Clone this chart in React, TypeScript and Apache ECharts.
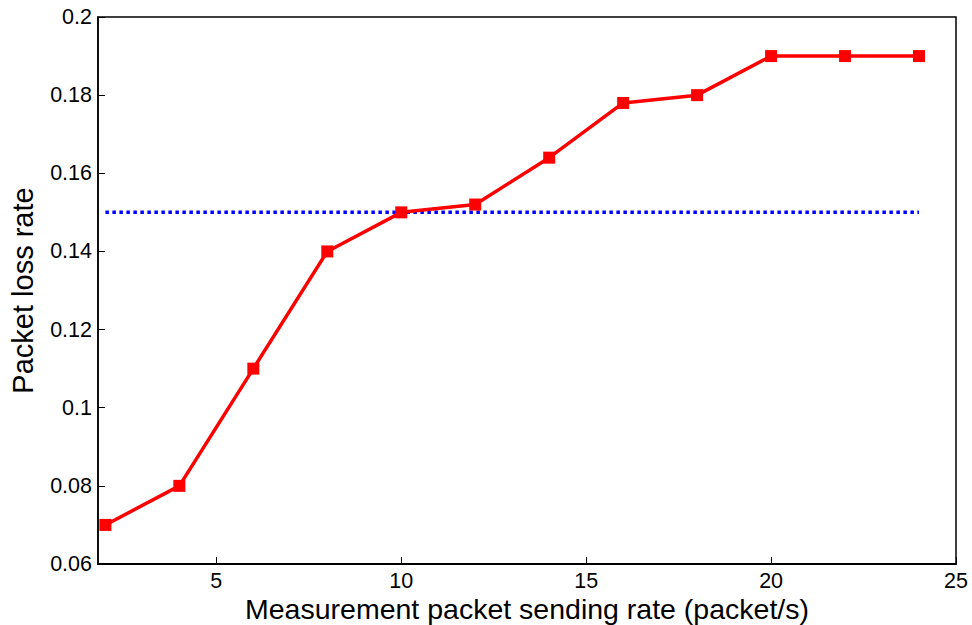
import React, { useEffect, useRef } from "react";
import * as echarts from "echarts";

const xValues = [2, 4, 6, 8, 10, 12, 14, 16, 18, 20, 22, 24];
const lossRate = [0.07, 0.08, 0.11, 0.14, 0.15, 0.152, 0.164, 0.178, 0.18, 0.19, 0.19, 0.19];
const thresholdX = [2, 24];
const thresholdY = [0.15, 0.15];
const xTicks = [5, 10, 15, 20, 25];

export default function App() {
  const ref = useRef<HTMLDivElement>(null);
  useEffect(() => {
    const chart = echarts.init(ref.current!, null, { renderer: "svg" });
    const font = "'Liberation Sans', Arial, sans-serif";
    chart.setOption({
      animation: false,
      backgroundColor: "#fff",
      grid: {
        left: 98,
        right: 16,
        top: 17,
        bottom: 61,
        outerBoundsMode: "none",
        containLabel: false,
        show: true,
        borderColor: "#000",
        borderWidth: 1.5,
      },
      xAxis: {
        type: "value",
        min: 1.8,
        max: 25,
        name: "Measurement packet sending rate (packet/s)",
        nameLocation: "middle",
        nameGap: 30,
        nameMoveOverlap: false,
        nameTextStyle: { fontFamily: font, fontSize: 28.5, color: "#000", lineHeight: 30 },
        axisLine: { show: true, onZero: false, lineStyle: { color: "#000", width: 2 } },
        axisTick: { show: true, inside: true, length: 7, customValues: xTicks, lineStyle: { color: "#000" } },
        axisLabel: { customValues: xTicks, fontFamily: font, fontSize: 21.5, color: "#000", margin: 6, lineHeight: 22 },
        splitLine: { show: false },
      },
      yAxis: {
        type: "value",
        min: 0.06,
        max: 0.2,
        interval: 0.02,
        name: "Packet loss rate",
        nameLocation: "middle",
        nameGap: 61,
        nameMoveOverlap: false,
        nameTextStyle: { fontFamily: font, fontSize: 29, color: "#000" },
        axisLine: { show: true, lineStyle: { color: "#000", width: 1.5 } },
        axisTick: { show: true, inside: true, length: 7, lineStyle: { color: "#000" } },
        axisLabel: {
          fontFamily: font,
          fontSize: 21.5,
          color: "#000",
          margin: 6,
          formatter: (v: number) => String(parseFloat(v.toFixed(2))),
        },
        splitLine: { show: false },
      },
      series: [
        {
          type: "line",
          data: thresholdX.map((x, i) => [x, thresholdY[i]]),
          symbol: "none",
          lineStyle: { color: "#0000ff", width: 3.5, type: [3.5, 3.5] },
          z: 2,
        },
        {
          type: "line",
          data: xValues.map((x, i) => [x, lossRate[i]]),
          symbol: "rect",
          symbolSize: 12,
          itemStyle: { color: "#ff0000" },
          lineStyle: { color: "#ff0000", width: 3.5 },
          z: 3,
        },
      ],
    });
    return () => chart.dispose();
  }, []);
  return <div ref={ref} style={{ width: 972, height: 625, position: "absolute", left: 0, top: 0 }} />;
}
